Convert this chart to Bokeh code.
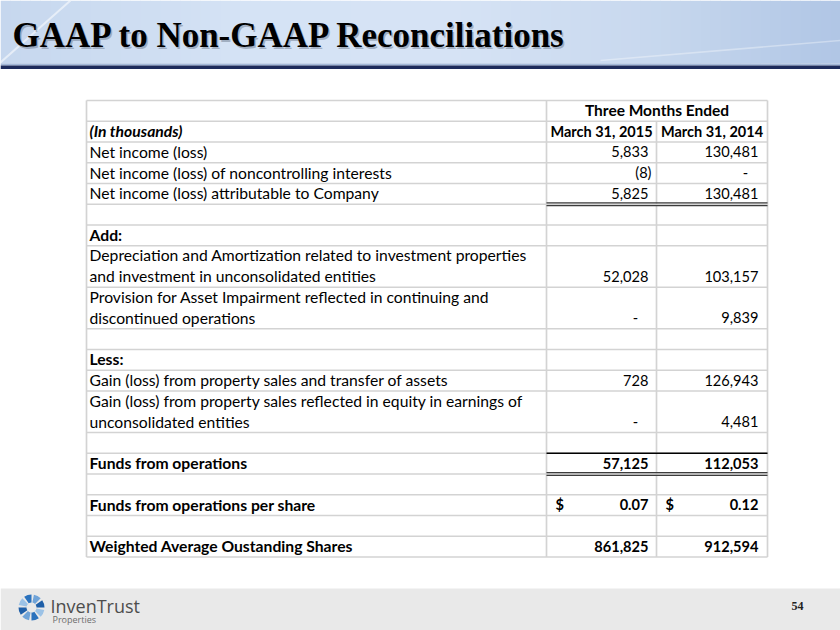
from bokeh.plotting import figure
from bokeh.models import Range1d
from bokeh.core.properties import value
from bokeh.embed import file_html
from bokeh.resources import INLINE

# ---------------- data ----------------
TITLE = "GAAP to Non-GAAP Reconciliations"
PERIOD_HEADER = "Three Months Ended"
COLUMN_HEADERS = ["March 31, 2015", "March 31, 2014"]
UNITS_LABEL = "(In thousands)"

row_labels = [
    "Net income (loss)",
    "Net income (loss) of noncontrolling interests",
    "Net income (loss) attributable to Company",
    "",
    "Add:",
    "Depreciation and Amortization related to investment properties\nand investment in unconsolidated entities",
    "Provision for Asset Impairment reflected in continuing and\ndiscontinued operations",
    "",
    "Less:",
    "Gain (loss) from property sales and transfer of assets",
    "Gain (loss) from property sales reflected in equity in earnings of\nunconsolidated entities",
    "",
    "Funds from operations",
    "",
    "Funds from operations per share",
    "",
    "Weighted Average Oustanding Shares",
]
row_bold = [False, False, False, False, True, False, False, False, True,
            False, False, False, True, False, True, False, True]
mar_2015 = [5833, -8, 5825, None, None, 52028, 0, None, None, 728, 0, None,
            57125, None, 0.07, None, 861825]
mar_2014 = [130481, 0, 130481, None, None, 103157, 9839, None, None, 126943, 4481, None,
            112053, None, 0.12, None, 912594]
LOGO_NAME = "InvenTrust"
LOGO_SUB = "Properties"
PAGE_NUMBER = "54"

# ---------------- layout / style ----------------
FONT = "Lato"
FS = "15.7px"      # label text
FS_NUM = "14.6px"  # numbers (narrow digits like the original)
FS_HEAD = "14.5px"
X0, XC1, XC2, X1 = 86, 546, 656, 767
TOP, UNIT = 100, 20.75
GRID = "#d3d3d3"
W, H = 840, 630

p = figure(width=W, height=H, output_backend="svg", toolbar_location=None,
           x_range=Range1d(0, W), y_range=Range1d(H, 0),
           min_border=0, outline_line_color=None)
p.axis.visible = False
p.grid.visible = False
p.background_fill_color = "white"
p.border_fill_color = "white"

# ---- banner gradient ----
stops = [(0, (198, 215, 238)), (250, (213, 227, 245)), (450, (214, 227, 245)),
         (650, (200, 216, 238)), (840, (176, 198, 229))]
def col_at(x):
    for (xa, ca), (xb, cb) in zip(stops[:-1], stops[1:]):
        if xa <= x <= xb:
            t = (x - xa) / (xb - xa)
            c = [int(round(a + (b - a) * t)) for a, b in zip(ca, cb)]
            return "#%02x%02x%02x" % tuple(c)
    return "#%02x%02x%02x" % stops[-1][1]
nstrip = 84
w = W / nstrip
lefts = [i * w for i in range(nstrip)]
p.quad(left=lefts, right=[l + w + 0.5 for l in lefts], top=[0] * nstrip, bottom=[63] * nstrip,
       fill_color=[col_at(l + w / 2) for l in lefts], line_color=None)
# faint swooshes
p.line(x=[0, 70], y=[62, 0], line_color="white", line_alpha=0.55, line_width=2)
p.line(x=[600, 840], y=[60, 40], line_color="white", line_alpha=0.35, line_width=1.5)
p.quad(left=[0], right=[W], top=[63], bottom=[65], fill_color="#a3b8d8", line_color=None)
p.quad(left=[0], right=[W], top=[65], bottom=[68.5], fill_color="#1d2b5b", line_color=None)

# title with shadow
p.text(x=[13.5], y=[36.5], text=[TITLE], text_font=value("Liberation Serif"), text_font_style="bold",
       text_font_size="35px", text_color="#6f7c8f", text_alpha=0.5, text_baseline="middle")
p.text(x=[12], y=[35], text=[TITLE], text_font=value("Liberation Serif"), text_font_style="bold",
       text_font_size="35px", text_color="black", text_baseline="middle")

# ---- footer ----
p.quad(left=[0], right=[W], top=[588], bottom=[H], fill_color="#e9e9e9", line_color=None)
angs = [i * 0.785 for i in range(8)]
p.annular_wedge(x=31, y=607, inner_radius=5, outer_radius=13,
                start_angle=angs, end_angle=[a + 0.6 for a in angs],
                fill_color=["#1f5fa8", "#6fa3d8", "#2b72bd", "#9cc2e6",
                            "#1f5fa8", "#6fa3d8", "#2b72bd", "#9cc2e6"], line_color=None)
p.text(x=[50], y=[605], text=[LOGO_NAME], text_font=value("Open Sans"), text_font_size="18px",
       text_color="#4d4d4d", text_baseline="middle")
p.text(x=[52], y=[619], text=[LOGO_SUB], text_font=value("Open Sans"), text_font_size="9px",
       text_color="#6d6d6d", text_baseline="middle")
p.text(x=[797], y=[605], text=[PAGE_NUMBER], text_font=value("Liberation Serif"),
       text_font_style="bold", text_font_size="12px", text_color="#222222",
       text_align="center", text_baseline="middle")

# ---- table geometry ----
units = [1, 1] + [lab.count("\n") + 1 for lab in row_labels]
bounds = [TOP]
for u in units:
    bounds.append(bounds[-1] + u * UNIT)
BOT = bounds[-1]
TY = 11   # text middle above a row's bottom line

# horizontal grid
p.segment(x0=[X0] * len(bounds), x1=[X1] * len(bounds), y0=bounds, y1=bounds,
          line_color=GRID, line_width=1.7)
# vertical grid
p.segment(x0=[X0, XC1, XC2, X1], x1=[X0, XC1, XC2, X1],
          y0=[TOP, TOP, bounds[1], TOP], y1=[BOT] * 4, line_color=GRID, line_width=1.7)

# header texts
p.text(x=[(XC1 + X1) / 2], y=[bounds[1] - TY], text=[PERIOD_HEADER], text_font=value(FONT),
       text_font_style="bold", text_font_size="15.5px", text_align="center", text_baseline="middle")
p.text(x=[(XC1 + XC2) / 2, (XC2 + X1) / 2], y=[bounds[2] - TY] * 2, text=COLUMN_HEADERS,
       text_font=value(FONT), text_font_style="bold", text_font_size=FS_HEAD,
       text_align="center", text_baseline="middle")
p.text(x=[89], y=[bounds[2] - TY], text=[UNITS_LABEL], text_font=value(FONT),
       text_font_style="bold italic", text_font_size=FS, text_baseline="middle")

# row labels
lab = {"normal": dict(x=[], y=[], t=[]), "bold": dict(x=[], y=[], t=[])}
for i, label in enumerate(row_labels):
    if not label:
        continue
    lines = label.split("\n")
    bottom = bounds[i + 3]
    key = "bold" if row_bold[i] else "normal"
    for k, ln in enumerate(lines):
        lab[key]["x"].append(89)
        lab[key]["y"].append(bottom - TY - (len(lines) - 1 - k) * 21)
        lab[key]["t"].append(ln)
for key, d in lab.items():
    p.text(x=d["x"], y=d["y"], text=d["t"], text_font=value(FONT), text_font_style=key,
           text_font_size=FS, text_color="black", text_baseline="middle")

# values
right_edges = [648, 758]
col_lefts = [XC1, XC2]
groups = {}
def add(key, x, y, t):
    g = groups.setdefault(key, dict(x=[], y=[], t=[]))
    g["x"].append(x); g["y"].append(y); g["t"].append(t)

for ci, series in enumerate([mar_2015, mar_2014]):
    for i, v in enumerate(series):
        if v is None:
            continue
        yb = bounds[i + 3] - TY
        style = "bold" if row_bold[i] else "normal"
        r = right_edges[ci]
        if v == 0:
            add((style, "center"), r - 13, yb, "-")
        elif v < 0:
            add((style, "right"), r + 3, yb, "(%s)" % format(-v, ","))
        elif isinstance(v, float):
            add((style, "right"), r, yb, "%.2f" % v)
            add((style, "left"), col_lefts[ci] + 9, yb, "$")
        else:
            add((style, "right"), r, yb, format(v, ","))
for (style, align), d in groups.items():
    p.text(x=d["x"], y=d["y"], text=d["t"], text_font=value(FONT), text_font_style=style,
           text_font_size=FS_NUM, text_color="black", text_align=align, text_baseline="middle")

# accounting underlines
ATTR_END = bounds[5]   # below "attributable to Company"
FFO_TOP = bounds[14]
FFO_END = bounds[15]
p.segment(x0=[XC1] * 2, x1=[X1] * 2, y0=[ATTR_END - 1.4, ATTR_END + 1.4],
          y1=[ATTR_END - 1.4, ATTR_END + 1.4], line_color="#3c3c3c", line_width=1.3)
p.segment(x0=[XC1], x1=[X1], y0=[FFO_TOP], y1=[FFO_TOP], line_color="black", line_width=1.5)
p.segment(x0=[XC1] * 2, x1=[X1] * 2, y0=[FFO_END - 1.4, FFO_END + 1.4],
          y1=[FFO_END - 1.4, FFO_END + 1.4], line_color="#3c3c3c", line_width=1.3)

open("out.html", "w").write(file_html(p, INLINE))
